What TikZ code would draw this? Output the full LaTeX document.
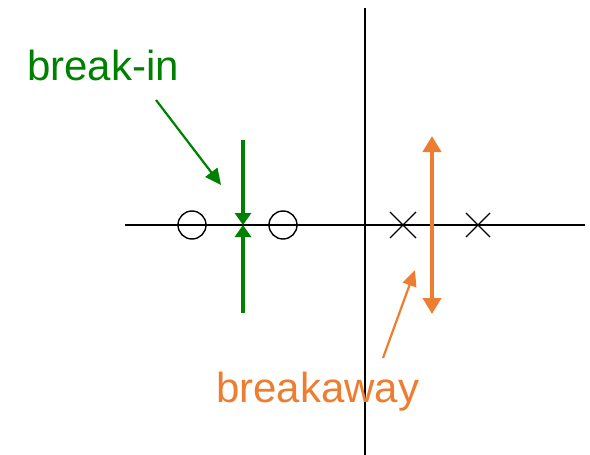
\documentclass[tikz,border=0pt]{standalone}
\usepackage{fontspec}
\setmainfont{Liberation Sans}
\usetikzlibrary{arrows.meta}
\definecolor{dgreen}{RGB}{0,128,0}
\definecolor{orng}{RGB}{237,125,49}
\begin{document}
\begin{tikzpicture}[x=1pt,y=-1pt,
  axis/.style={line width=1.4pt,black},
  zero/.style={circle,draw,line width=1.4pt,minimum size=28pt,inner sep=0pt},
  pole/.style={line width=1.4pt},
  thick green/.style={draw=dgreen,line width=3.8pt,-{Triangle[width=16pt,length=12pt]}},
  thin green/.style={draw=dgreen,line width=2.2pt,-{Triangle[width=15pt,length=16pt]}},
  thick orange/.style={draw=orng,line width=4.5pt,{Triangle[width=18pt,length=16pt]}-{Triangle[width=18pt,length=16pt]}},
  thin orange/.style={draw=orng,line width=2.2pt,-{Triangle[width=14pt,length=16pt]}},
  lbl/.style={font=\fontsize{42}{46}\selectfont,inner sep=0pt,anchor=base west}]
\useasboundingbox (0,0) rectangle (590,455);
% axes
\coordinate (xl) at (125,225);
\coordinate (xr) at (585,225);
\coordinate (yt) at (365,8);
\coordinate (yb) at (365,455);
\draw[axis] (xl) -- (xr);
\draw[axis] (yt) -- (yb);
% zeros
\node[zero] (z1) at (192,225) {};
\node[zero] (z2) at (283,225) {};
% poles
\coordinate (p1) at (403,225);
\coordinate (p2) at (478,225);
\draw[pole] ([shift={(-13,-13)}]p1) -- ([shift={(13,13)}]p1);
\draw[pole] ([shift={(-13,13)}]p1) -- ([shift={(13,-13)}]p1);
\draw[pole] ([shift={(-12,-12)}]p2) -- ([shift={(12,12)}]p2);
\draw[pole] ([shift={(-12,12)}]p2) -- ([shift={(12,-12)}]p2);
% green break-in locus
\coordinate (gt) at (243,140);
\coordinate (gb) at (243,313);
\coordinate (gm) at (243,225);
\draw[thick green] (gt) -- (gm);
\draw[thick green] (gb) -- (gm);
% orange breakaway locus
\coordinate (ot) at (432,136);
\coordinate (ob) at (432,314);
\draw[thick orange] (ob) -- (ot);
% labels
\node[lbl,text=dgreen] (bi) at (27,80) {break-in};
\node[lbl,text=orng] (ba) at (216,402) {breakaway};
\coordinate (gs) at (156,100);
\coordinate (ge) at (221,185);
\draw[thin green] (gs) -- (ge);
\coordinate (os) at (383,358);
\coordinate (oe) at (415,270);
\draw[thin orange] (os) -- (oe);
\end{tikzpicture}
\end{document}
